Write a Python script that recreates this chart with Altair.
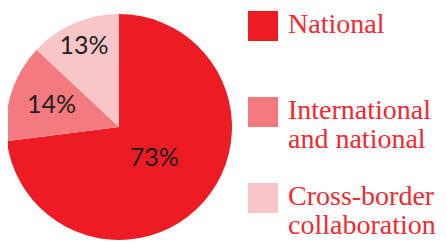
import altair as alt
import pandas as pd

categories = ["National", "International\nand national", "Cross-border\ncollaboration"]
shares = [73, 14, 13]
colors = ["#ED1C24", "#F37A7F", "#F8C6C8"]

df = pd.DataFrame({
    "category": categories,
    "share": shares,
    "idx": list(range(len(categories))),
})
df["label"] = df["share"].astype(str) + "%"

cx, cy, R = 111, 119, 113

color = alt.Color("category:N", scale=alt.Scale(domain=categories, range=colors), legend=None)

base = alt.Chart(df)

pie = base.mark_arc(radius=R, stroke=None).encode(
    theta=alt.Theta("share:Q", stack=True),
    color=color,
    order=alt.Order("idx:Q"),
    x=alt.value(cx),
    y=alt.value(cy),
)

labels = base.transform_window(
    cum="sum(share)", sort=[alt.SortField("idx")]
).transform_calculate(
    mid="datum.cum - datum.share / 2"
).mark_text(font="Lato", fontSize=25, color="#231F20").encode(
    theta=alt.Theta("mid:Q", stack=None, scale=alt.Scale(domain=[0, 100])),
    radius=alt.Radius("idx:Q", scale=alt.Scale(type="linear", zero=False, domain=[0, 1, 2], range=[47, 71, 88])),
    text="label:N",
    x=alt.value(cx),
    y=alt.value(cy),
)

ysc = alt.Scale(type="point", domain=categories, range=[18, 190], padding=0)

squares = base.mark_square(size=900, opacity=1).encode(
    x=alt.value(255),
    y=alt.Y("category:N", scale=ysc, axis=None),
    color=color,
)

legend_text = base.mark_text(
    font="Liberation Serif", fontSize=28, color="#EE2A33", align="left",
    baseline="alphabetic", lineBreak="\n", lineHeight=29, dy=7,
).encode(
    x=alt.value(280),
    y=alt.Y("category:N", scale=ysc, axis=None),
    text="category:N",
)

chart = alt.layer(pie, labels, squares, legend_text).properties(
    width=431, height=236, padding=0,
    autosize=alt.AutoSizeParams(type="none"),
).configure_view(stroke=None)

chart.save("out.html", embed_options={"renderer": "svg", "actions": False})
